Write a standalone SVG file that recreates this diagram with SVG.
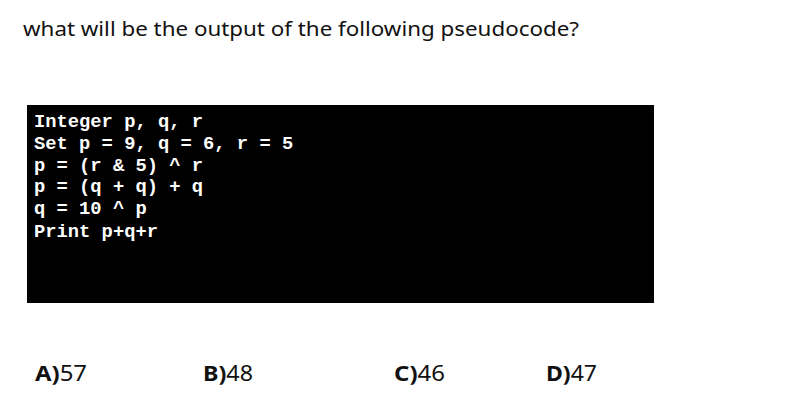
<svg xmlns="http://www.w3.org/2000/svg" width="790" height="404" viewBox="0 0 790 404">
<style>
.title{font-family:"Noto Sans","Open Sans",sans-serif;font-size:20px;fill:#111}
.code{font-family:"Liberation Mono","Courier New",monospace;font-size:18.8px;font-weight:bold;fill:#fff;white-space:pre}
.opt{font-family:"Noto Sans","Open Sans",sans-serif;font-size:22px;fill:#111}
.lbl{font-weight:bold}
</style>
<rect width="790" height="404" fill="#fff"/>
<g id="question">
<text class="title" x="23" y="36" textLength="556" lengthAdjust="spacingAndGlyphs">what will be the output of the following pseudocode?</text>
</g>
<g id="code-box">
<rect x="27" y="105" width="627" height="198" fill="#000"/>
<text class="code" xml:space="preserve" x="34" y="127">Integer p, q, r</text>
<text class="code" xml:space="preserve" x="34" y="149">Set p = 9, q = 6, r = 5</text>
<text class="code" xml:space="preserve" x="34" y="171">p = (r &amp; 5) ^ r</text>
<text class="code" xml:space="preserve" x="34" y="192">p = (q + q) + q</text>
<text class="code" xml:space="preserve" x="34" y="214">q = 10 ^ p</text>
<text class="code" xml:space="preserve" x="34" y="237">Print p+q+r</text>
</g>
<g id="option-a"><text class="opt" x="35" y="381" textLength="52" lengthAdjust="spacingAndGlyphs"><tspan class="lbl">A)</tspan>57</text></g>
<g id="option-b"><text class="opt" x="203" y="381" textLength="50" lengthAdjust="spacingAndGlyphs"><tspan class="lbl">B)</tspan>48</text></g>
<g id="option-c"><text class="opt" x="394" y="381" textLength="51" lengthAdjust="spacingAndGlyphs"><tspan class="lbl">C)</tspan>46</text></g>
<g id="option-d"><text class="opt" x="546" y="381" textLength="51" lengthAdjust="spacingAndGlyphs"><tspan class="lbl">D)</tspan>47</text></g>
</svg>
